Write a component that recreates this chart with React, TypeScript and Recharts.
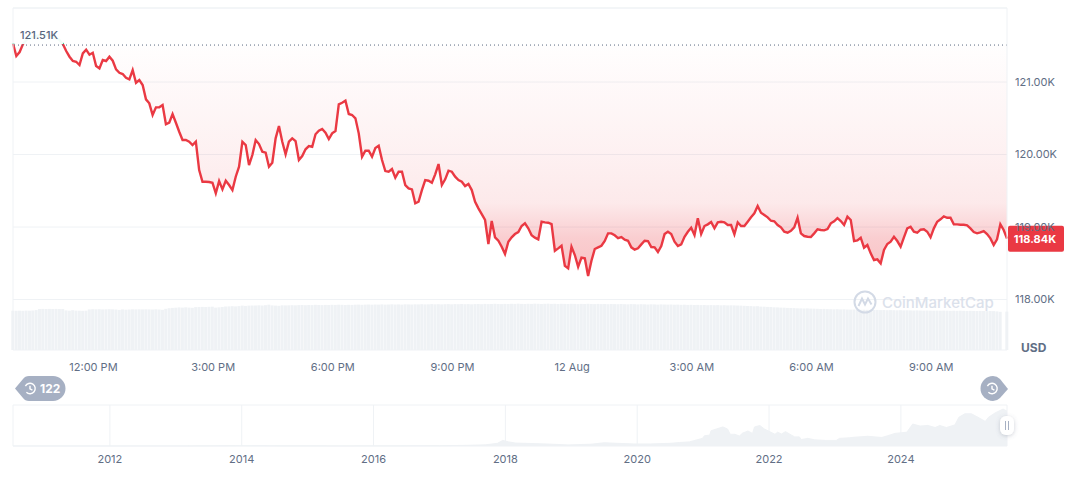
import { Area, Bar, CartesianGrid, ComposedChart, ReferenceDot, ReferenceLine, XAxis, YAxis } from 'recharts'

// price in thousands of USD, one reading every 5 minutes
const prices = [
  121.531, 121.359, 121.414, 121.524, 121.579, 121.607, 121.621, 121.635, 121.648, 121.662,
  121.648, 121.635, 121.621, 121.607, 121.579, 121.524, 121.428, 121.349, 121.29, 121.28,
  121.234, 121.396, 121.446, 121.377, 121.404, 121.221, 121.189, 121.303, 121.29, 121.349,
  121.294, 121.175, 121.128, 121.11, 121.059, 121.037, 121.166, 120.99, 121.028, 120.959,
  120.761, 120.706, 120.545, 120.651, 120.651, 120.683, 120.417, 120.439, 120.559, 120.439,
  120.314, 120.2, 120.2, 120.177, 120.131, 120.177, 119.786, 119.625, 119.625, 119.621,
  119.611, 119.465, 119.634, 119.52, 119.639, 119.579, 119.51, 119.694, 119.832, 120.177,
  120.131, 119.855, 119.993, 120.2, 120.145, 120.039, 120.025, 119.832, 119.887, 120.223,
  120.393, 120.177, 120.003, 120.177, 120.223, 120.186, 119.924, 119.979, 120.072, 120.117,
  120.107, 120.279, 120.328, 120.352, 120.301, 120.214, 120.292, 120.324, 120.692, 120.714,
  120.742, 120.559, 120.545, 120.499, 120.292, 119.97, 120.052, 120.052, 119.97, 120.09,
  120.121, 119.924, 119.772, 119.763, 119.8, 119.68, 119.763, 119.763, 119.579, 119.534,
  119.52, 119.327, 119.349, 119.51, 119.648, 119.639, 119.611, 119.727, 119.869, 119.579,
  119.658, 119.777, 119.763, 119.694, 119.648, 119.625, 119.565, 119.593, 119.51, 119.349,
  119.258, 119.179, 119.097, 118.766, 119.083, 118.858, 118.811, 118.728, 118.628, 118.797,
  118.858, 118.903, 118.931, 119.014, 119.051, 118.982, 118.886, 118.853, 118.83, 119.073,
  119.065, 119.059, 119.041, 118.673, 118.706, 118.742, 118.466, 118.43, 118.728, 118.614,
  118.452, 118.577, 118.568, 118.324, 118.535, 118.697, 118.72, 118.742, 118.807, 118.913,
  118.913, 118.886, 118.848, 118.862, 118.825, 118.811, 118.72, 118.687, 118.706, 118.761,
  118.811, 118.807, 118.724, 118.72, 118.655, 118.738, 118.903, 118.935, 118.903, 118.797,
  118.738, 118.761, 118.866, 118.935, 118.99, 118.89, 119.12, 118.903, 119.014, 119.037,
  119.069, 118.982, 119.065, 119.073, 119.065, 119.028, 119.028, 118.899, 119.065, 119.014,
  119.014, 119.073, 119.134, 119.189, 119.29, 119.197, 119.165, 119.134, 119.087, 119.079,
  119.028, 118.996, 118.935, 118.921, 118.949, 118.996, 119.128, 118.913, 118.876, 118.866,
  118.862, 118.913, 118.968, 118.959, 118.954, 118.972, 119.051, 119.079, 119.124, 119.083,
  119.028, 119.142, 119.097, 118.807, 118.816, 118.853, 118.715, 118.752, 118.637, 118.545,
  118.554, 118.499, 118.683, 118.766, 118.797, 118.866, 118.807, 118.728, 118.858, 118.982,
  119.004, 118.935, 118.921, 118.963, 118.968, 118.935, 118.858, 118.982, 119.073, 119.106,
  119.148, 119.128, 119.128, 119.037, 119.037, 119.032, 119.032, 119.023, 118.982, 118.931,
  118.913, 118.927, 118.945, 118.904, 118.844, 118.752, 118.83, 119.037, 118.959, 118.84,
]

const volumes = [
  39.3, 39.2, 39.3, 39.2, 39.4, 39.3, 39.4, 39.9, 41.0, 41.1, 41.0, 41.1, 41.0, 41.1, 41.0, 40.9, 39.6, 39.3, 39.8, 39.4,
  39.3, 39.2, 39.3, 40.6, 40.8, 40.7, 40.8, 40.6, 40.7, 40.8, 40.7, 40.5, 40.1, 40.6, 40.3, 40.6, 40.7, 40.6, 40.7, 40.6,
  40.7, 40.6, 40.5, 40.7, 40.5, 40.2, 41.2, 41.8, 42.1, 42.3, 42.6, 42.4, 42.7, 42.4, 42.2, 42.9, 43.0, 43.1, 43.0, 43.2,
  43.3, 42.4, 42.7, 43.0, 43.5, 43.6, 43.8, 43.6, 43.9, 44.4, 44.1, 44.4, 44.5, 44.6, 44.7, 44.5, 44.8, 45.3, 44.6, 44.4,
  44.2, 44.7, 44.6, 44.7, 44.8, 44.7, 44.9, 45.0, 44.8, 45.0, 44.9, 45.2, 45.0, 44.9, 45.1, 45.0, 45.2, 45.1, 45.3, 45.2,
  45.0, 45.2, 45.1, 45.3, 45.4, 45.2, 45.4, 45.5, 45.3, 45.5, 45.4, 45.6, 45.4, 45.5, 45.7, 45.5, 45.6, 45.4, 45.7, 45.6,
  45.5, 45.7, 45.6, 45.8, 45.6, 45.7, 45.9, 45.7, 45.8, 45.6, 45.8, 45.9, 45.7, 45.9, 45.8, 46.0, 45.8, 45.9, 45.7, 45.9,
  46.0, 45.8, 46.1, 45.9, 46.0, 46.2, 46.0, 45.9, 46.1, 46.0, 46.2, 46.1, 46.3, 46.1, 46.0, 46.2, 46.1, 46.3, 46.2, 46.0,
  46.2, 46.3, 46.1, 46.2, 46.0, 46.2, 46.1, 46.0, 46.2, 46.1, 45.9, 46.1, 46.0, 46.2, 46.0, 45.9, 46.1, 45.9, 46.0, 45.8,
  46.0, 45.9, 45.8, 46.0, 45.8, 45.7, 45.9, 45.8, 45.6, 45.8, 45.7, 45.5, 45.7, 45.6, 45.4, 45.6, 45.5, 45.4, 45.5, 45.3,
  45.4, 45.2, 45.3, 45.1, 45.2, 45.0, 45.1, 44.9, 45.0, 44.8, 44.9, 44.8, 44.9, 44.7, 44.8, 44.6, 44.7, 44.6, 44.5, 44.4,
  44.2, 44.0, 43.9, 43.7, 43.8, 43.4, 43.3, 43.1, 43.0, 42.7, 42.6, 42.4, 42.3, 42.1, 42.0, 41.9, 41.7, 41.6, 41.5, 41.6,
  41.4, 41.3, 41.2, 41.0, 41.1, 40.9, 40.8, 40.7, 40.8, 40.6, 40.7, 40.5, 40.4, 40.5, 40.3, 40.2, 40.3, 40.2, 40.1, 40.0,
  40.1, 39.9, 40.0, 39.8, 39.9, 39.8, 39.7, 39.8, 39.6, 39.7, 39.6, 39.5, 39.6, 39.5, 39.4, 39.5, 39.4, 39.3, 39.4, 39.3,
  39.4, 39.3, 39.2, 39.3, 39.2, 39.3, 39.2, 39.1, 39.2, 39.1, 39.0, 39.1, 39.0, 38.9, 39.0, 38.9, 38.6, 38.2, 0, 38.4,
]

const START_MINUTE = 599
const STEP_MINUTES = 5
const BASE_PRICE = 121.51
const LAST_PRICE = 118.84
const Y_MIN = 117.304
const Y_MAX = 122.021

const priceTicks = [118, 119, 120, 121]
const timeTicks = [720, 900, 1080, 1260, 1440, 1620, 1800, 1980]
const timeLabels = ['12:00 PM', '3:00 PM', '6:00 PM', '9:00 PM', '12 Aug', '3:00 AM', '6:00 AM', '9:00 AM']

// full history for the navigator underneath
const historyYears = [
  2010.53, 2011.5, 2013.2, 2013.9, 2014.5, 2015.5, 2016.5, 2017.0, 2017.4, 2017.7, 2017.88, 2017.96, 2018.05, 2018.15,
  2018.3, 2018.6, 2018.95, 2019.3, 2019.5, 2019.7, 2019.95, 2020.2, 2020.5, 2020.64, 2020.79, 2020.89, 2020.99, 2021.02,
  2021.1, 2021.12, 2021.2, 2021.3, 2021.37, 2021.41, 2021.48, 2021.55, 2021.6, 2021.68, 2021.75, 2021.78, 2021.86,
  2021.93, 2022.01, 2022.09, 2022.13, 2022.19, 2022.25, 2022.34, 2022.39, 2022.46, 2022.49, 2022.59, 2022.69, 2022.85,
  2023.02, 2023.07, 2023.22, 2023.3, 2023.5, 2023.71, 2023.8, 2023.91, 2024.09, 2024.18, 2024.29, 2024.41, 2024.52,
  2024.59, 2024.69, 2024.82, 2024.88, 2024.97, 2025.07, 2025.17, 2025.28, 2025.33, 2025.43, 2025.55, 2025.61,
]
const historyPrices = [
  0.1, 0.1, 0.3, 1, 0.6, 0.3, 0.6, 1, 2, 4, 9, 19, 14, 10, 9, 7, 3.6, 6, 11, 9, 7, 7, 9, 11.7, 14, 20, 26, 35,
  37, 52, 58, 65, 58, 40, 40, 34, 44, 51, 43, 65, 70,
  58, 49, 40, 47, 41, 49, 37, 31, 31, 22, 26, 21, 19,
  19, 26, 28, 30, 33, 29, 35, 43, 47, 75, 68, 70, 63,
  70, 63, 72, 98, 110, 110, 98, 84, 98, 113, 126, 119,
]
const yearTicks = [2012, 2014, 2016, 2018, 2020, 2022, 2024]

const rows = prices.map((price, i) => ({ t: START_MINUTE + i * STEP_MINUTES, price, vol: volumes[i] }))
const historyRows = historyYears.map((year, i) => ({ year, price: historyPrices[i] }))
const lastMinute = rows[rows.length - 1].t

const FONT = 'Inter, sans-serif'
const GRID = '#eff2f5'
const TEXT = '#616e85'
const RED = '#ea3943'
const GREEN = '#16c784'
const PILL = '#a6b0c3'

function ClockIcon({ cx, cy }: { cx: number; cy: number }) {
  return (
    <g fill="none" stroke="#fff" strokeWidth={1.4}>
      <path d={`M${cx - 4.6} ${cy - 2.4} A5.2 5.2 0 1 1 ${cx - 3.6} ${cy + 3.8}`} />
      <path d={`M${cx} ${cy - 2.8} V${cy + 0.4} L${cx + 2.4} ${cy + 1.6}`} />
    </g>
  )
}

export default function App() {
  return (
    <div style={{ position: 'absolute', left: 0, top: 0, width: 1074, height: 481, background: '#fff', fontFamily: FONT, overflow: 'hidden' }}>
      <div style={{ position: 'absolute', left: 0, top: 0 }}>
        <ComposedChart width={1074} height={380} data={rows} margin={{ top: 8, right: 0, bottom: 0, left: 13 }}>
          <defs>
            <linearGradient id="lineStroke" gradientUnits="userSpaceOnUse" x1="0" y1="0" x2="0" y2="350">
              <stop offset="0.127" stopColor={GREEN} />
              <stop offset="0.127" stopColor={RED} />
            </linearGradient>
            <linearGradient id="areaFill" gradientUnits="userSpaceOnUse" x1="0" y1="0" x2="0" y2="350">
              <stop offset="0.127" stopColor={GREEN} stopOpacity={0.1} />
              <stop offset="0.127" stopColor={RED} stopOpacity={0.005} />
              <stop offset="0.43" stopColor={RED} stopOpacity={0.07} />
              <stop offset="0.58" stopColor={RED} stopOpacity={0.11} />
              <stop offset="0.68" stopColor={RED} stopOpacity={0.25} />
              <stop offset="0.8" stopColor={RED} stopOpacity={0.32} />
            </linearGradient>
          </defs>
          <CartesianGrid vertical={false} stroke={GRID} yAxisId="price" />
          <XAxis
            dataKey="t"
            type="number"
            domain={[START_MINUTE, lastMinute]}
            ticks={timeTicks}
            tickFormatter={(v: number) => timeLabels[timeTicks.indexOf(v)]}
            tick={{ fill: TEXT, fontSize: 11, fontFamily: FONT }}
            tickLine={false}
            axisLine={false}
            tickMargin={7}
            height={30}
            interval={0}
          />
          <YAxis
            yAxisId="price"
            orientation="right"
            width={67}
            domain={[Y_MIN, Y_MAX]}
            ticks={priceTicks}
            allowDataOverflow
            tickFormatter={(v: number) => `${v.toFixed(2)}K`}
            tick={{ fill: TEXT, fontSize: 11, fontFamily: FONT }}
            tickLine={false}
            tickMargin={2}
            axisLine={{ stroke: GRID }}
          />
          <YAxis yAxisId="vol" hide domain={[0, 342]} />
          <Bar yAxisId="vol" dataKey="vol" fill={GRID} barSize={3} isAnimationActive={false} />
          <Area
            yAxisId="price"
            type="linear"
            dataKey="price"
            baseValue={BASE_PRICE}
            stroke="url(#lineStroke)"
            strokeWidth={2.4}
            fill="url(#areaFill)"
            fillOpacity={1}
            dot={false}
            activeDot={false}
            isAnimationActive={false}
          />
          <ReferenceLine yAxisId="price" y={Y_MAX} stroke={GRID} />
          <ReferenceLine yAxisId="price" x={START_MINUTE} stroke={GRID} />
          <ReferenceLine yAxisId="price" y={BASE_PRICE} stroke="#58667e" strokeDasharray="1 3" />
          <ReferenceDot
            yAxisId="price"
            x={START_MINUTE}
            y={BASE_PRICE}
            r={0}
            ifOverflow="visible"
            shape={(p: any) => (
              <g>
                <rect x={p.cx + 5} y={p.cy - 17} width={45} height={16} fill="#fff" fillOpacity={0.94} />
                <text x={p.cx + 7} y={p.cy - 6} fontSize={11} fontWeight={500} fontFamily={FONT} fill="#58667e">
                  {BASE_PRICE.toFixed(2)}K
                </text>
              </g>
            )}
          />
          <ReferenceDot
            yAxisId="price"
            x={lastMinute}
            y={LAST_PRICE}
            r={0}
            ifOverflow="visible"
            shape={(p: any) => (
              <g>
                <rect x={p.cx + 1} y={p.cy - 13} width={56} height={26} rx={2} fill={RED} />
                <text x={p.cx + 28} y={p.cy + 4.5} textAnchor="middle" fontSize={11} fontWeight={700} fontFamily={FONT} fill="#fff">
                  {LAST_PRICE.toFixed(2)}K
                </text>
              </g>
            )}
          />
        </ComposedChart>
      </div>

      {/* watermark */}
      <svg style={{ position: 'absolute', left: 852, top: 289 }} width={26} height={26} fill="none" stroke="#d3dae6" strokeWidth={2}>
        <circle cx={13} cy={13} r={10.5} />
        <path d="M6.5 17 L10 9.5 L13 15.5 L16 9.5 L19.5 15.5" />
      </svg>
      <div style={{ position: 'absolute', left: 882, top: 293, fontSize: 15, fontWeight: 500, color: '#dbe1eb', whiteSpace: 'nowrap' }}>CoinMarketCap</div>

      <div style={{ position: 'absolute', left: 1021, top: 340, fontSize: 12, fontWeight: 700, color: TEXT }}>USD</div>

      <div style={{ position: 'absolute', left: 0, top: 395 }}>
        <ComposedChart width={1074} height={86} data={historyRows} margin={{ top: 10, right: 67, bottom: 0, left: 13 }}>
          <CartesianGrid horizontal={false} stroke={GRID} />
          <XAxis
            dataKey="year"
            type="number"
            domain={[2010.53, 2025.61]}
            ticks={yearTicks}
            tick={{ fill: TEXT, fontSize: 11, fontFamily: FONT }}
            tickLine={false}
            axisLine={{ stroke: GRID }}
            tickMargin={3}
            height={35}
            interval={0}
          />
          <YAxis hide domain={[0, 140]} />
          <Area type="linear" dataKey="price" stroke={GRID} fill={GRID} fillOpacity={1} dot={false} activeDot={false} isAnimationActive={false} />
          <ReferenceLine y={140} stroke={GRID} />
        </ComposedChart>
      </div>

      {/* range pills and navigator handle */}
      <svg style={{ position: 'absolute', left: 0, top: 370 }} width={1074} height={80}>
        <path d="M15 18.5 L23 9 Q25 6 29 6 H53 A12.5 12.5 0 0 1 53 31 H29 Q25 31 23 28 Z" fill={PILL} />
        <ClockIcon cx={30} cy={18.5} />
        <text x={40} y={23} fontSize={12} fontWeight={700} fontFamily={FONT} fill="#fff">122</text>
        <path d="M1008 19 L1000 9 Q997 6 993 6 A12.5 12.5 0 0 0 993 31 Q997 31 1000 28 Z" fill={PILL} />
        <ClockIcon cx={992} cy={18.5} />
        <defs>
          <filter id="handleShadow" x="-50%" y="-50%" width="200%" height="200%">
            <feDropShadow dx={0} dy={1} stdDeviation={2} floodColor="#58667e" floodOpacity={0.3} />
          </filter>
        </defs>
        <rect x={1000} y={46} width={14} height={19} rx={6} fill="#fff" filter="url(#handleShadow)" />
        <path d="M1005.5 51 V60 M1008.5 51 V60" stroke={PILL} strokeWidth={1} />
      </svg>
    </div>
  )
}
